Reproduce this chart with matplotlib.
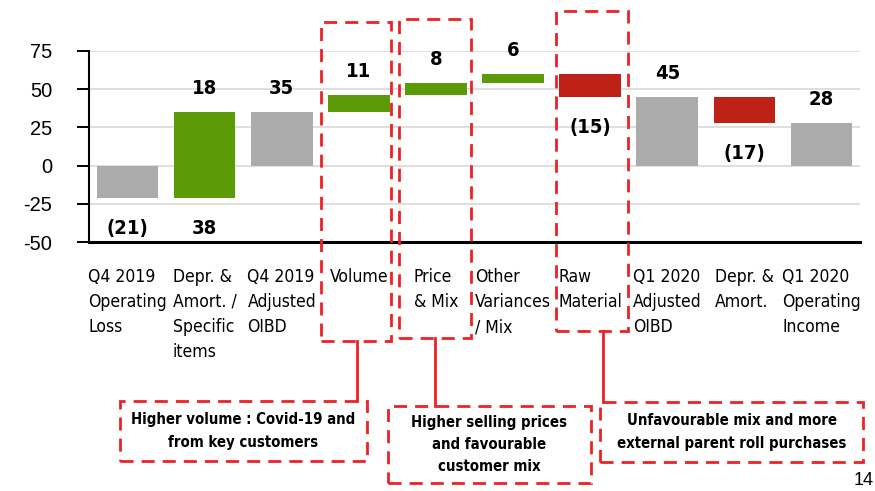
import matplotlib
matplotlib.use("Agg")
import matplotlib.pyplot as plt
from matplotlib.patches import Rectangle
from matplotlib.lines import Line2D
import numpy as np

# no Arial Narrow here: DejaVu Sans Condensed is the nearest narrow face
plt.rcParams['font.family'] = ['DejaVu Sans']
plt.rcParams['font.stretch'] = 'condensed'
plt.rcParams['axes.unicode_minus'] = False

# Bridge from Q4 2019 operating loss to Q1 2020 operating income
categories = ["Q4 2019\nOperating\nLoss", "Depr. &\nAmort. /\nSpecific\nitems", "Q4 2019\nAdjusted\nOIBD",
              "Volume", "Price\n& Mix", "Other\nVariances\n/ Mix", "Raw\nMaterial",
              "Q1 2020\nAdjusted\nOIBD", "Depr. &\nAmort.", "Q1 2020\nOperating\nIncome"]
bar_start = [0, -21, 0, 35, 46, 54, 60, 0, 45, 0]
bar_end = [-21, 35, 35, 46, 54, 60, 45, 45, 28, 28]
bar_kind = ["total", "up", "total", "up", "up", "up", "down", "total", "down", "total"]
labels_above = ["", "18", "35", "11", "8", "6", "", "45", "", "28"]
labels_below = ["(21)", "38", "", "", "", "", "(15)", "", "(17)", ""]
y_ticks = [-50, -25, 0, 25, 50, 75]

notes = ["Higher volume : Covid-19 and\nfrom key customers",
         "Higher selling prices\nand favourable\ncustomer mix",
         "Unfavourable mix and more\nexternal parent roll purchases"]

COLORS = {"total": "#ABABAB", "up": "#5C9A07", "down": "#BE2217"}
RED = "#EC2227"
W, H = 875, 491


def fpx(x, y):
    """pixel position -> figure fraction"""
    return x / W, 1 - y / H


fig = plt.figure(figsize=(W / 100, H / 100), dpi=100)
ax = fig.add_axes([89 / W, 1 - 242 / H, (860 - 89) / W, (242 - 51) / H])

x = np.arange(len(categories))
start = np.array(bar_start)
end = np.array(bar_end)
bottoms = np.minimum(start, end)
heights = np.abs(end - start)
ax.bar(x, heights, bottom=bottoms, width=0.8, color=[COLORS[k] for k in bar_kind], zorder=3)

ax.set_xlim(-0.5, len(categories) - 0.5)
ax.set_ylim(-50, 75)
ax.set_yticks(y_ticks)
ax.tick_params(axis="y", length=8.6, width=1.4, pad=18, labelsize=14.5)
for t in ax.get_yticklabels():
    t.set_family(['Liberation Sans', 'DejaVu Sans'])
    t.set_stretch('normal')
ax.tick_params(axis="x", bottom=False, labelbottom=False)
ax.yaxis.grid(True, color="#D9D9D9", linewidth=1.2)
ax.set_axisbelow(True)
for s in ["top", "right"]:
    ax.spines[s].set_visible(False)
ax.spines["left"].set_linewidth(1.5)
ax.spines["bottom"].set_linewidth(2.2)

# value labels (baseline placed relative to bar ends)
for i in range(len(categories)):
    top = max(start[i], end[i])
    low = min(start[i], end[i])
    if labels_above[i]:
        ax.annotate(labels_above[i], xy=(i, top), xytext=(0, 18), textcoords="offset pixels",
                    ha="center", va="baseline", fontsize=14.5, fontweight="bold", zorder=4)
    if labels_below[i]:
        ax.annotate(labels_below[i], xy=(i, low), xytext=(0, -36), textcoords="offset pixels",
                    ha="center", va="baseline", fontsize=14.5, fontweight="bold", zorder=4)

# category labels: block centred on the bar, lines left aligned
for i, cat in enumerate(categories):
    ax.annotate(cat, xy=(i, 0), xycoords=("data", "axes fraction"), xytext=(0, -26),
                textcoords="offset pixels", ha="center", va="top", multialignment="left",
                fontsize=12.6, linespacing=1.5, annotation_clip=False)

dash = dict(color=RED, linewidth=2.0, linestyle=(0, (4.7, 2.9)))

# dashed frames around the highlighted columns (left, top, right, bottom in px)
frames = [(321, 22, 391, 341), (399, 19, 471, 338), (556, 11, 628, 331)]
for l, t, r, b in frames:
    x0, y0 = fpx(l, b)
    x1, y1 = fpx(r, t)
    fig.add_artist(Rectangle((x0, y0), x1 - x0, y1 - y0, transform=fig.transFigure,
                             fill=False, **dash))

# connectors
connectors = [(357, 341, 401), (435, 338, 406), (603, 331, 402)]
for cx, y_a, y_b in connectors:
    xa, ya = fpx(cx, y_a)
    _, yb = fpx(cx, y_b)
    fig.add_artist(Line2D([xa, xa], [ya, yb], transform=fig.transFigure, color=RED, linewidth=2.0))

# note boxes
boxes = [(120, 401, 367, 461), (388, 406, 591, 483), (600, 402, 863, 462)]
for (l, t, r, b), note in zip(boxes, notes):
    x0, y0 = fpx(l, b)
    x1, y1 = fpx(r, t)
    fig.add_artist(Rectangle((x0, y0), x1 - x0, y1 - y0, transform=fig.transFigure,
                             fill=False, **dash))
    fig.text((x0 + x1) / 2, (y0 + y1) / 2, note, ha="center", va="center", fontsize=10.7,
             fontweight="bold", linespacing=1.62)

# page number at the bottom-right corner
px, py = fpx(874, 472)
fig.text(px, py, "14", ha="right", va="top", fontsize=13, family=['Liberation Sans', 'DejaVu Sans'],
         stretch='normal')

fig.savefig("out.png", dpi=100)
